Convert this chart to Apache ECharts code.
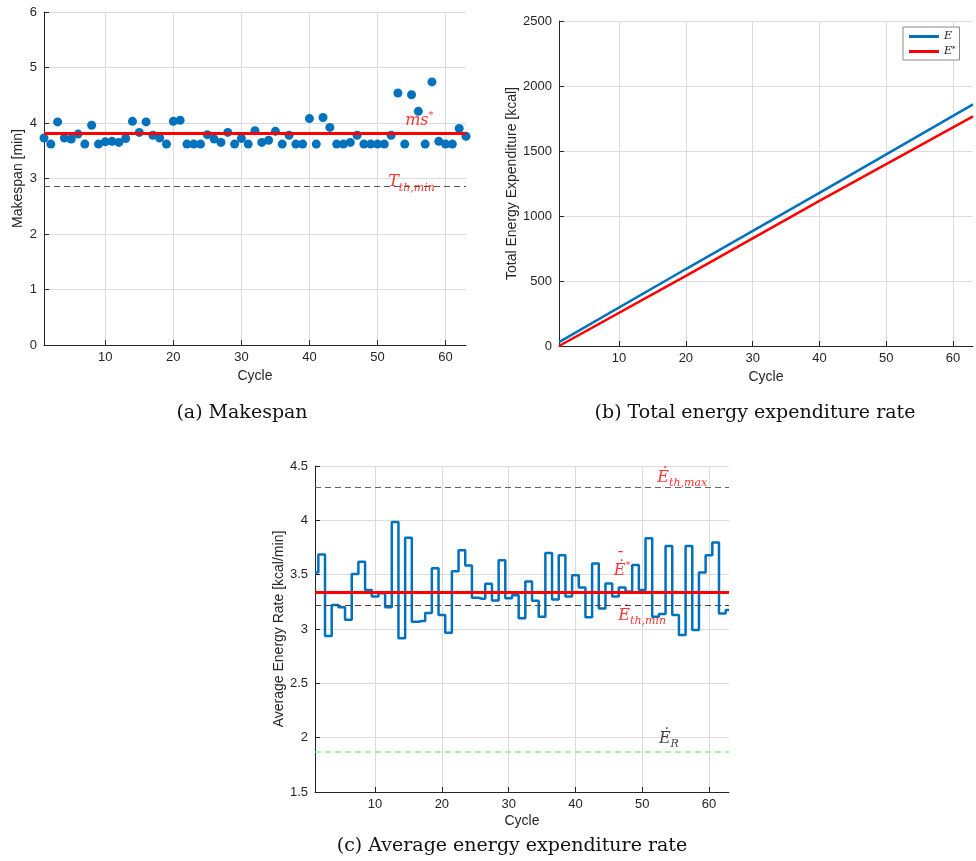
<!DOCTYPE html>
<html>
<head>
<meta charset="utf-8">
<script src="https://cdn.jsdelivr.net/npm/echarts@6/dist/echarts.min.js"></script>
<style>
  html, body { margin: 0; background: #fff; }
  #chart { width: 976px; height: 861px; }
</style>
</head>
<body>
<div id="chart"></div>
<script>
// cycle index shared by all three panels
const cycles = [1, 2, 3, 4, 5, 6, 7, 8, 9, 10, 11, 12, 13, 14, 15, 16, 17, 18, 19, 20,
  21, 22, 23, 24, 25, 26, 27, 28, 29, 30, 31, 32, 33, 34, 35, 36, 37, 38, 39, 40,
  41, 42, 43, 44, 45, 46, 47, 48, 49, 50, 51, 52, 53, 54, 55, 56, 57, 58, 59, 60,
  61, 62, 63]

// (a) makespan per cycle [min]
const makespan = [3.73, 3.62, 4.02, 3.73, 3.71, 3.80, 3.62, 3.96, 3.62, 3.66,
  3.67, 3.65, 3.72, 4.03, 3.83, 4.02, 3.78, 3.73, 3.62, 4.03,
  4.05, 3.62, 3.62, 3.62, 3.79, 3.71, 3.65, 3.83, 3.62, 3.72,
  3.62, 3.86, 3.65, 3.69, 3.85, 3.62, 3.78, 3.62, 3.62, 4.08,
  3.62, 4.10, 3.92, 3.62, 3.62, 3.65, 3.78, 3.62, 3.62, 3.62,
  3.62, 3.78, 4.54, 3.62, 4.51, 4.21, 3.62, 4.74, 3.67, 3.62,
  3.62, 3.90, 3.76]
const msStar = 3.82
const makespanThMin = 2.86

// (b) total energy expenditure [kcal], read at these cycles
const energyCycles = [1, 20, 40, 63]
const energyTotal = [30, 592, 1178, 1859]
const energyOptimal = [0, 540, 1116, 1767]

// (c) average energy rate per cycle [kcal/min]
const avgRate = [3.52, 3.685, 2.935, 3.22, 3.20, 3.085, 3.505, 3.62, 3.36, 3.30,
  3.33, 3.20, 3.985, 2.915, 3.84, 3.067, 3.073, 3.148, 3.56, 3.128,
  2.966, 3.532, 3.724, 3.585, 3.287, 3.279, 3.417, 3.262, 3.632, 3.283,
  3.31, 3.10, 3.437, 3.26, 3.113, 3.70, 3.272, 3.678, 3.30, 3.495,
  3.382, 3.107, 3.602, 3.189, 3.419, 3.30, 3.382, 3.345, 3.59, 3.36,
  3.835, 3.113, 3.137, 3.764, 3.128, 2.945, 3.764, 2.99, 3.52, 3.678,
  3.795, 3.143, 3.174]
const rateThMax = 4.30
const rateStar = 3.34
const rateThMin = 3.223
const rateRest = 1.87

const SANS = 'Liberation Sans, Arial, sans-serif'
const SERIF = 'DejaVu Serif, serif'
const INK = '#262626'
const BLUE = '#0072BD'
const RED = '#FF0000'

const everyTen = (i, v) => Number(v) % 10 === 0

const mathRich = (color) => ({
  i: { fontFamily: SERIF, fontStyle: 'italic', fontSize: 16, lineHeight: 22, color },
  sup: { fontFamily: SERIF, fontSize: 10, lineHeight: 10, verticalAlign: 'top', color },
  sub: { fontFamily: SERIF, fontStyle: 'italic', fontSize: 11, lineHeight: 11, verticalAlign: 'bottom', color }
})

function makeX(gridIndex, nameGap) {
  return {
    type: 'category',
    gridIndex,
    data: cycles.map(String),
    boundaryGap: false,
    name: 'Cycle',
    nameLocation: 'middle',
    nameGap,
    nameTextStyle: { color: INK, fontSize: 14, fontFamily: SANS },
    axisLine: { lineStyle: { color: INK } },
    axisTick: { inside: true, length: 5, interval: everyTen, lineStyle: { color: INK } },
    axisLabel: { interval: everyTen, color: INK, fontSize: 13, fontFamily: SANS, margin: 6 },
    splitLine: { show: true, interval: everyTen, lineStyle: { color: '#dcdcdc' } }
  }
}

function makeY(gridIndex, min, max, interval, name, nameGap) {
  return {
    type: 'value',
    gridIndex,
    min, max, interval,
    name,
    nameLocation: 'middle',
    nameGap,
    nameTextStyle: { color: INK, fontSize: 14, fontFamily: SANS },
    axisLine: { show: true, lineStyle: { color: INK } },
    axisTick: { show: true, inside: true, length: 5, lineStyle: { color: INK } },
    axisLabel: { color: INK, fontSize: 13, fontFamily: SANS, margin: 7, formatter: (v) => String(v) },
    splitLine: { show: true, lineStyle: { color: '#dcdcdc' } }
  }
}

function refLine(axisIdx, value, color, type, width) {
  return {
    type: 'line', xAxisIndex: axisIdx, yAxisIndex: axisIdx, data: [], z: 10, silent: true,
    markLine: {
      symbol: 'none', silent: true, animation: false, label: { show: false },
      lineStyle: { color, type, width },
      data: [{ yAxis: value }]
    }
  }
}

function annotation(axisIdx, cycle, value, text, position, color, offset) {
  return {
    type: 'scatter', xAxisIndex: axisIdx, yAxisIndex: axisIdx, symbolSize: 0, silent: true, z: 20,
    data: [[String(cycle), value]],
    label: { show: true, position, offset: offset || [0, 0], formatter: text, rich: mathRich(color) }
  }
}

const chart = echarts.init(document.getElementById('chart'))

chart.setOption({
  animation: false,
  grid: [
    { left: 44, top: 12, width: 422, height: 333 },
    { left: 559, top: 21, width: 414, height: 325 },
    { left: 315, top: 466, width: 414, height: 326 }
  ],
  xAxis: [makeX(0, 24), makeX(1, 24), makeX(2, 22)],
  yAxis: [
    makeY(0, 0, 6, 1, 'Makespan [min]', 19),
    makeY(1, 0, 2500, 500, 'Total Energy Expenditure [kcal]', 31),
    makeY(2, 1.5, 4.5, 0.5, 'Average Energy Rate [kcal/min]', 24)
  ],
  legend: {
    data: ['E', 'E*'],
    orient: 'vertical',
    left: 903, top: 27,
    itemWidth: 30, itemHeight: 3, itemGap: 4,
    padding: [4, 4, 3, 6],
    borderColor: '#8a8a8a', borderWidth: 1, borderRadius: 0,
    backgroundColor: '#fff',
    icon: 'rect',
    formatter: (n) => n === 'E' ? '{i|E}' : '{i|E}{sup|*}',
    textStyle: {
      rich: {
        i: { fontFamily: SERIF, fontStyle: 'italic', fontSize: 11, color: '#222' },
        sup: { fontFamily: SERIF, fontSize: 7, verticalAlign: 'top', color: '#222' }
      }
    }
  },
  series: [
    // (a)
    {
      type: 'scatter', xAxisIndex: 0, yAxisIndex: 0,
      data: cycles.map((c, i) => [String(c), makespan[i]]),
      symbolSize: 9, itemStyle: { color: BLUE, opacity: 1 }
    },
    refLine(0, msStar, RED, 'solid', 3),
    refLine(0, makespanThMin, '#555', [6, 4], 1),
    annotation(0, 56, msStar, '{i|ms}{sup|*}', 'top', RED, [1, 4]),
    annotation(0, 55, makespanThMin, '{i|T}{sub|th,min}', 'top', RED, [0, 12]),
    // (b)
    {
      name: 'E', type: 'line', xAxisIndex: 1, yAxisIndex: 1, showSymbol: false,
      data: energyCycles.map((c, i) => [String(c), energyTotal[i]]),
      lineStyle: { color: BLUE, width: 2.5 }, itemStyle: { color: BLUE }
    },
    {
      name: 'E*', type: 'line', xAxisIndex: 1, yAxisIndex: 1, showSymbol: false,
      data: energyCycles.map((c, i) => [String(c), energyOptimal[i]]),
      lineStyle: { color: RED, width: 2.5 }, itemStyle: { color: RED }
    },
    // (c)
    {
      type: 'line', xAxisIndex: 2, yAxisIndex: 2, step: 'middle', showSymbol: false,
      data: cycles.map((c, i) => [String(c), avgRate[i]]),
      lineStyle: { color: BLUE, width: 2.5 }
    },
    refLine(2, rateThMax, '#666', [6, 4], 1),
    refLine(2, rateThMin, '#444', [6, 4], 1),
    refLine(2, rateRest, '#90EE90', [6, 4], 1.5),
    refLine(2, rateStar, RED, 'solid', 3),
    annotation(2, 56, rateThMax, '{i|\u0116}{sub|th,max}', 'top', RED, [0, 6]),
    annotation(2, 47, rateStar, '{i|\u0116}{sup|*}', 'top', RED, [0, -5]),
    annotation(2, 47, rateStar, '{i|\u00AF}', 'top', RED, [-3, -16]),
    annotation(2, 50, rateThMin, '{i|\u0116}{sub|th,min}', 'bottom', RED, [0, -5]),
    annotation(2, 54, rateRest, '{i|\u0116}{sub|R}', 'top', '#111', [0, 3])
  ],
  graphic: [
    { type: 'text', x: 242, y: 413, style: { text: '(a) Makespan', font: '19px ' + SERIF, fill: '#111', textAlign: 'center', textVerticalAlign: 'middle' } },
    { type: 'text', x: 755, y: 413, style: { text: '(b) Total energy expenditure rate', font: '19px ' + SERIF, fill: '#111', textAlign: 'center', textVerticalAlign: 'middle' } },
    { type: 'text', x: 512, y: 846, style: { text: '(c) Average energy expenditure rate', font: '19px ' + SERIF, fill: '#111', textAlign: 'center', textVerticalAlign: 'middle' } }
  ]
})
</script>
</body>
</html>
